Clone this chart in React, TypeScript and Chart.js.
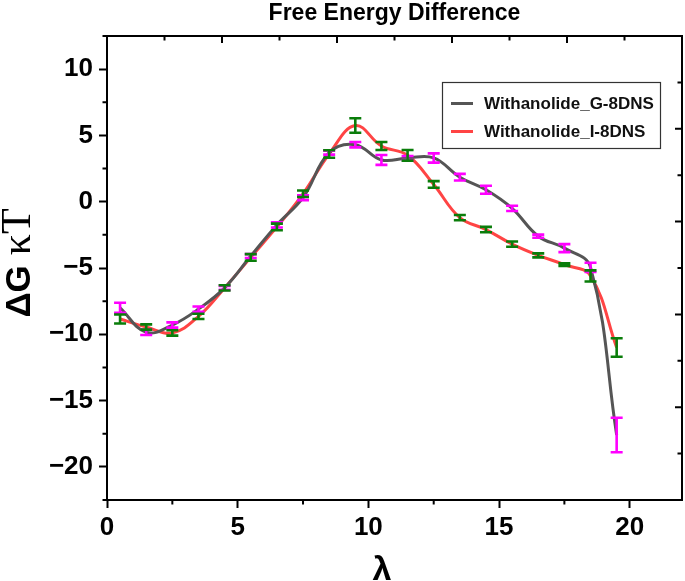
import React, { useEffect, useRef } from 'react';
import { Chart, registerables } from 'chart.js';

Chart.register(...registerables);

// ---- data ----
const lambda = [0.5, 1.5, 2.5, 3.5, 4.5, 5.5, 6.5, 7.5, 8.5, 9.5, 10.5, 11.5, 12.5, 13.5, 14.5, 15.5, 16.5, 17.5, 18.5, 19.5];
const gMean = [-8.0, -9.85, -9.3, -8.1, -6.5, -4.1, -1.75, 0.3, 3.7, 4.3, 3.15, 3.3, 3.3, 1.85, 0.9, -0.5, -2.6, -3.5, -4.95, -17.6];
const gErr = [0.38, 0.2, 0.2, 0.2, 0.15, 0.15, 0.2, 0.18, 0.15, 0.2, 0.37, 0.15, 0.35, 0.25, 0.3, 0.2, 0.12, 0.3, 0.35, 1.3];
const iMean = [-8.85, -9.45, -9.9, -8.65, -6.5, -4.2, -1.9, 0.6, 3.6, 5.75, 4.2, 3.5, 1.3, -1.2, -2.1, -3.2, -4.05, -4.75, -5.6, -11.0];
const iErr = [0.34, 0.2, 0.2, 0.2, 0.2, 0.25, 0.25, 0.25, 0.28, 0.55, 0.3, 0.4, 0.25, 0.2, 0.2, 0.2, 0.15, 0.1, 0.42, 0.7];
const seriesNames = ['Withanolide_G-8DNS', 'Withanolide_I-8DNS'];

const xTicks = [0, 5, 10, 15, 20];
const xMinorTicks = [2.5, 7.5, 12.5, 17.5];
const yTicks = [-20, -15, -10, -5, 0, 5, 10];
const yMinorTicks = [-22.5, -17.5, -12.5, -7.5, -2.5, 2.5, 7.5, 12.5];
const topTicks = [2.2, 4.4, 6.6, 8.8, 11, 13.2, 15.4, 17.6, 19.8];
const topMajorTicks = [4.4, 8.8, 13.2, 17.6];
const rightTicks = [-19, -15.5, -12, -8.5, -5, -1.5, 2, 5.5, 9];
const rightMajorTicks = [-15.5, -8.5, -1.5, 5.5];

const titleText = 'Free Energy Difference';
const xTitle = 'λ';
const yTitleMain = 'ΔG';
const yTitleUnit = 'κT';

const SANS = "'Liberation Sans', Arial, Helvetica, sans-serif";
const SERIF = "'Liberation Serif', 'Times New Roman', serif";
const GRAY = '#555555';
const RED = '#ff4444';
const MAGENTA = '#ff00ff';
const GREEN = '#0a7d0a';

const decorPlugin = {
  id: 'decor',
  afterDatasetsDraw(chart: any) {
    const ctx = chart.ctx;
    const xs = chart.scales.x;
    const ys = chart.scales.y;
    const bars = [
      { mean: gMean, err: gErr, color: MAGENTA },
      { mean: iMean, err: iErr, color: GREEN },
    ];
    ctx.save();
    ctx.lineCap = 'butt';
    for (const b of bars) {
      ctx.strokeStyle = b.color;
      ctx.lineWidth = 2.6;
      for (let i = 0; i < lambda.length; i++) {
        const px = xs.getPixelForValue(lambda[i]);
        const y1 = ys.getPixelForValue(b.mean[i] + b.err[i]);
        const y2 = ys.getPixelForValue(b.mean[i] - b.err[i]);
        ctx.beginPath();
        ctx.moveTo(px, y1);
        ctx.lineTo(px, y2);
        ctx.moveTo(px - 6, y1);
        ctx.lineTo(px + 6, y1);
        ctx.moveTo(px - 6, y2);
        ctx.lineTo(px + 6, y2);
        ctx.stroke();
      }
    }
    ctx.restore();
  },
  afterDraw(chart: any) {
    const ctx = chart.ctx;
    const xs = chart.scales.x;
    const ys = chart.scales.y;
    const { left, right, top, bottom } = chart.chartArea;
    ctx.save();
    ctx.strokeStyle = '#000';
    ctx.lineWidth = 2;
    // top and right frame
    ctx.beginPath();
    ctx.moveTo(left - 1, top);
    ctx.lineTo(right, top);
    ctx.lineTo(right, bottom + 1);
    ctx.stroke();
    // minor ticks, left & bottom (outward)
    ctx.beginPath();
    for (const v of yMinorTicks) {
      const py = ys.getPixelForValue(v);
      ctx.moveTo(left, py);
      ctx.lineTo(left - 4.5, py);
    }
    for (const v of xMinorTicks) {
      const px = xs.getPixelForValue(v);
      ctx.moveTo(px, bottom);
      ctx.lineTo(px, bottom + 4.5);
    }
    // top ticks (inward)
    for (const v of topTicks) {
      const px = xs.getPixelForValue(v);
      const len = topMajorTicks.includes(v) ? 7 : 4.5;
      ctx.moveTo(px, top);
      ctx.lineTo(px, top + len);
    }
    // right ticks (inward)
    for (const v of rightTicks) {
      const py = ys.getPixelForValue(v);
      const len = rightMajorTicks.includes(v) ? 7 : 4.5;
      ctx.moveTo(right, py);
      ctx.lineTo(right - len, py);
    }
    ctx.stroke();

    // x axis title
    ctx.fillStyle = '#000';
    ctx.font = `bold 34px ${SANS}`;
    ctx.textAlign = 'center';
    ctx.textBaseline = 'alphabetic';
    ctx.fillText(xTitle, 382, 580);

    // y axis title (mixed fonts)
    ctx.save();
    const cy = 263;
    ctx.translate(30, cy);
    ctx.rotate(-Math.PI / 2);
    ctx.textAlign = 'left';
    ctx.textBaseline = 'alphabetic';
    const f1 = `bold 35px ${SANS}`;
    const f2 = `42px ${SERIF}`;
    ctx.font = f1;
    const w1 = ctx.measureText(yTitleMain).width;
    ctx.font = f2;
    const w2 = ctx.measureText(yTitleUnit).width;
    const gap = 10;
    const start = -(w1 + gap + w2) / 2;
    ctx.font = f1;
    ctx.fillText(yTitleMain, start, 0);
    ctx.font = f2;
    ctx.fillText(yTitleUnit, start + w1 + gap, 0);
    ctx.restore();

    // legend
    const bx = 442, by = 82, bw = 218, bh = 66;
    ctx.fillStyle = '#fff';
    ctx.fillRect(bx, by, bw, bh);
    ctx.strokeStyle = '#333';
    ctx.lineWidth = 1.2;
    ctx.strokeRect(bx + 0.5, by + 0.5, bw, bh);
    const rows = [103.5, 131.5];
    chart.data.datasets.forEach((ds: any, i: number) => {
      const ry = rows[i];
      ctx.strokeStyle = ds.borderColor;
      ctx.lineWidth = 3;
      ctx.beginPath();
      ctx.moveTo(451, ry);
      ctx.lineTo(473, ry);
      ctx.stroke();
      ctx.fillStyle = '#111';
      ctx.font = `bold 17px ${SANS}`;
      ctx.textAlign = 'left';
      ctx.textBaseline = 'middle';
      ctx.fillText(ds.label, 484, ry + 1);
    });
    ctx.restore();
  },
};

export default function App() {
  const ref = useRef<HTMLCanvasElement | null>(null);

  useEffect(() => {
    document.body.style.margin = '0';
    if (!ref.current) return;
    const chart = new Chart(ref.current, {
      type: 'line',
      data: {
        datasets: [
          {
            label: seriesNames[0],
            data: lambda.map((x, i) => ({ x, y: gMean[i] })),
            borderColor: GRAY,
            backgroundColor: GRAY,
            borderWidth: 3,
            pointRadius: 0,
            tension: 0.4,
            fill: false,
          },
          {
            label: seriesNames[1],
            data: lambda.map((x, i) => ({ x, y: iMean[i] })),
            borderColor: RED,
            backgroundColor: RED,
            borderWidth: 3,
            pointRadius: 0,
            tension: 0.4,
            fill: false,
          },
        ],
      },
      options: {
        animation: false,
        responsive: true,
        maintainAspectRatio: false,
        layout: { padding: { left: 0, right: 3, top: 0, bottom: 0 } },
        plugins: {
          legend: { display: false },
          tooltip: { enabled: false },
          title: {
            display: true,
            text: titleText,
            fullSize: false,
            color: '#000',
            font: { family: SANS, size: 23, weight: 'bold', lineHeight: 1 },
            padding: { top: 2, bottom: 11 },
          },
        },
        scales: {
          x: {
            type: 'linear',
            min: 0,
            max: 22,
            afterBuildTicks: (s: any) => {
              s.ticks = xTicks.map((v) => ({ value: v }));
            },
            afterFit: (s: any) => {
              s.height = 81;
            },
            ticks: {
              color: '#000',
              font: { family: SANS, size: 26, weight: 'bold' },
              padding: 4,
              maxRotation: 0,
              autoSkip: false,
            },
            grid: {
              display: true,
              drawOnChartArea: false,
              drawTicks: true,
              tickLength: 8,
              tickWidth: 2,
              tickColor: '#000',
            },
            border: { display: true, color: '#000', width: 2 },
          },
          y: {
            type: 'linear',
            min: -22.5,
            max: 12.5,
            afterBuildTicks: (s: any) => {
              s.ticks = yTicks.map((v) => ({ value: v }));
            },
            afterFit: (s: any) => {
              s.width = 107;
            },
            ticks: {
              color: '#000',
              font: { family: SANS, size: 26, weight: 'bold' },
              padding: 6,
              autoSkip: false,
              callback: (v: any) => (Number(v) < 0 ? '\u2212' + Math.abs(Number(v)) : String(v)),
            },
            grid: {
              display: true,
              drawOnChartArea: false,
              drawTicks: true,
              tickLength: 8,
              tickWidth: 2,
              tickColor: '#000',
            },
            border: { display: true, color: '#000', width: 2 },
          },
        },
      },
      plugins: [decorPlugin],
    } as any);
    return () => chart.destroy();
  }, []);

  return (
    <div style={{ width: 685, height: 581, position: 'relative' }}>
      <canvas ref={ref} />
    </div>
  );
}
